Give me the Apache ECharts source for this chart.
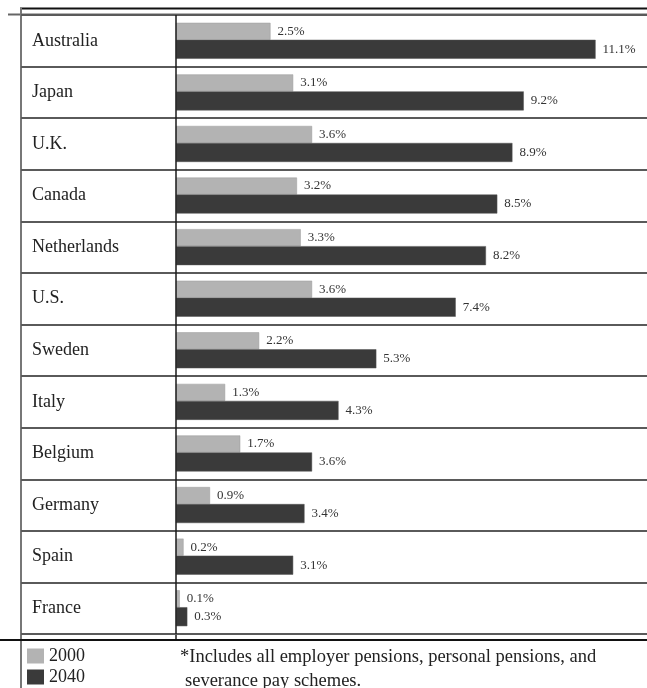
<!DOCTYPE html>
<html>
<head>
<meta charset="utf-8">
<style>
  html, body { margin: 0; padding: 0; background: #fff; }
  #chart { width: 647px; height: 688px; }
</style>
<script src="https://cdn.jsdelivr.net/npm/echarts@6/dist/echarts.min.js"></script>
</head>
<body>
<div id="chart"></div>
<script>
const categories = ['Australia', 'Japan', 'U.K.', 'Canada', 'Netherlands', 'U.S.', 'Sweden', 'Italy', 'Belgium', 'Germany', 'Spain', 'France'];
const values2000 = [2.5, 3.1, 3.6, 3.2, 3.3, 3.6, 2.2, 1.3, 1.7, 0.9, 0.2, 0.1];
const values2040 = [11.1, 9.2, 8.9, 8.5, 8.2, 7.4, 5.3, 4.3, 3.6, 3.4, 3.1, 0.3];
const seriesNames = ['2000', '2040'];
const footnoteLines = ['*Includes all employer pensions, personal pensions, and', 'severance pay schemes.'];

const FONT = '"Liberation Serif", "DejaVu Serif", serif';
const chart = echarts.init(document.getElementById('chart'), null, { renderer: 'canvas' });

const labelStyle = {
  show: true,
  position: 'right',
  distance: 7,
  formatter: p => p.value + '%',
  fontFamily: FONT,
  fontSize: 13,
  color: '#333'
};

const legendBase = {
  orient: 'vertical',
  left: 27,
  icon: 'rect',
  itemWidth: 17,
  itemHeight: 15,
  itemGap: 2,
  padding: 0,
  itemStyle: { borderWidth: 0 },
  textStyle: { fontFamily: FONT, fontSize: 18, color: '#222', lineHeight: 18 }
};

chart.setOption({
  animation: false,
  backgroundColor: '#fff',
  grid: { left: 21, right: 0, top: 15, bottom: 54, containLabel: false },
  xAxis: {
    type: 'value',
    min: -4.1,
    max: 12.46,
    show: false
  },
  yAxis: {
    type: 'category',
    data: categories,
    inverse: true,
    axisLine: { show: false },
    axisTick: { show: false },
    axisLabel: {
      inside: true,
      margin: 11,
      align: 'left',
      fontFamily: FONT,
      fontSize: 18,
      color: '#222'
    },
    splitLine: { show: true, lineStyle: { color: '#5a5a5a', width: 2 } }
  },
  legend: [
    Object.assign({}, legendBase, { data: [seriesNames[0]], top: 647 }),
    Object.assign({}, legendBase, { data: [seriesNames[1]], top: 668 })
  ],
  series: [
    {
      name: seriesNames[0],
      type: 'bar',
      data: values2000,
      barWidth: 17,
      barGap: '0%',
      itemStyle: { color: '#b3b3b3', borderColor: '#9a9a9a', borderWidth: 0.5 },
      label: labelStyle,
      markLine: {
        silent: true,
        symbol: 'none',
        label: { show: false },
        lineStyle: { color: '#1a1a1a', width: 1.5, type: 'solid' },
        data: [{ xAxis: 0 }]
      }
    },
    {
      name: seriesNames[1],
      type: 'bar',
      data: values2040,
      barWidth: 19,
      barGap: '0%',
      itemStyle: { color: '#3a3a3a', borderColor: '#555', borderWidth: 0.5 },
      label: labelStyle
    }
  ],
  graphic: [
    { type: 'line', shape: { x1: 20, y1: 8.5, x2: 647, y2: 8.5 }, style: { stroke: '#111', lineWidth: 2 }, silent: true },
    { type: 'line', shape: { x1: 8, y1: 14.5, x2: 647, y2: 14.5 }, style: { stroke: '#666', lineWidth: 2 }, silent: true },
    { type: 'line', shape: { x1: 21, y1: 8, x2: 21, y2: 688 }, style: { stroke: '#777', lineWidth: 2 }, silent: true },
    { type: 'line', shape: { x1: 176, y1: 634, x2: 176, y2: 639 }, style: { stroke: '#1a1a1a', lineWidth: 1.5 }, silent: true },
    { type: 'line', shape: { x1: 0, y1: 640, x2: 647, y2: 640 }, style: { stroke: '#111', lineWidth: 2 }, silent: true },
    { type: 'text', x: 180, y: 657, style: { text: footnoteLines[0], font: '18.5px ' + FONT, fill: '#222', verticalAlign: 'middle' }, silent: true },
    { type: 'text', x: 185, y: 681, style: { text: footnoteLines[1], font: '18.5px ' + FONT, fill: '#222', verticalAlign: 'middle' }, silent: true }
  ]
});
</script>
</body>
</html>
